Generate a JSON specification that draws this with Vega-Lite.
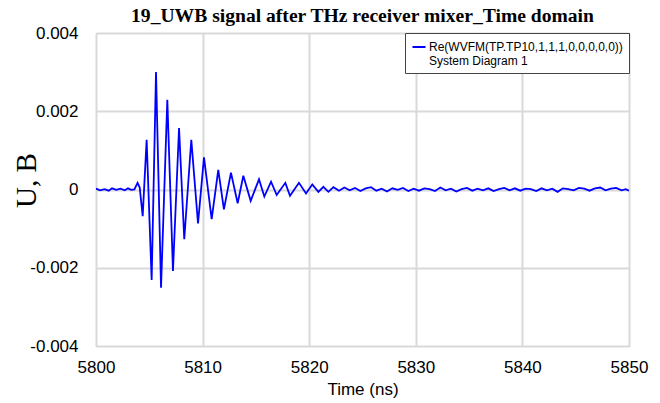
{
  "$schema": "https://vega.github.io/schema/vega-lite/v6.json",
  "width": 533,
  "height": 313,
  "autosize": {"type": "none"},
  "padding": {"left": 96, "top": 33, "right": 31, "bottom": 57},
  "background": "white",
  "title": {"text": "19_UWB signal after THz receiver mixer_Time domain", "font": "Liberation Serif", "fontSize": 19.6, "fontWeight": "bold", "color": "black", "anchor": "middle", "frame": "group", "offset": -3},
  "config": {
    "view": {"stroke": "#7f7f7f", "strokeWidth": 1},
    "axis": {"gridColor": "#d9d9d9", "gridWidth": 2, "domain": false, "ticks": false, "tickSize": 0, "labelFont": "Liberation Sans", "labelFontSize": 17, "labelColor": "black", "titleColor": "black"}
  },
  "data": {"values": [
    {"t": 5800.0, "v": 0.00002}, {"t": 5800.4, "v": -0.00002}, {"t": 5800.8, "v": 0.00001}, {"t": 5801.2, "v": -0.00003},
    {"t": 5801.5, "v": 0.00003}, {"t": 5801.9, "v": -0.00001}, {"t": 5802.3, "v": 0.00002}, {"t": 5802.7, "v": -0.00002},
    {"t": 5803.0, "v": 0.00003}, {"t": 5803.3, "v": -0.00001}, {"t": 5803.6, "v": 0.0}, {"t": 5803.9, "v": 0.00017},
    {"t": 5804.1, "v": 0.00005}, {"t": 5804.38, "v": -0.00068}, {"t": 5804.75, "v": 0.00127}, {"t": 5805.22, "v": -0.00231},
    {"t": 5805.63, "v": 0.0030}, {"t": 5806.1, "v": -0.00251}, {"t": 5806.69, "v": 0.00229}, {"t": 5807.22, "v": -0.00208},
    {"t": 5807.79, "v": 0.00157}, {"t": 5808.28, "v": -0.00127}, {"t": 5808.94, "v": 0.00127}, {"t": 5809.57, "v": -0.00087},
    {"t": 5810.13, "v": 0.00082}, {"t": 5810.85, "v": -0.00076}, {"t": 5811.47, "v": 0.0005}, {"t": 5812.0, "v": -0.00051},
    {"t": 5812.66, "v": 0.00043}, {"t": 5813.29, "v": -0.00035}, {"t": 5813.82, "v": 0.00035}, {"t": 5814.51, "v": -0.00029},
    {"t": 5815.29, "v": 0.00026}, {"t": 5815.79, "v": -0.00018}, {"t": 5816.42, "v": 0.0002}, {"t": 5816.95, "v": -0.00014},
    {"t": 5817.76, "v": 0.00017}, {"t": 5818.2, "v": -0.00016}, {"t": 5819.04, "v": 0.00017}, {"t": 5819.7, "v": -0.0001},
    {"t": 5820.29, "v": 0.00013}, {"t": 5820.86, "v": -0.00006}, {"t": 5821.33, "v": 0.00007}, {"t": 5821.8, "v": -0.00006},
    {"t": 5822.27, "v": 0.00006}, {"t": 5822.8, "v": -0.00003}, {"t": 5823.3, "v": 0.00005}, {"t": 5823.8, "v": -0.00002},
    {"t": 5824.3, "v": 0.00004}, {"t": 5824.8, "v": -0.00004}, {"t": 5825.3, "v": 0.00003}, {"t": 5825.8, "v": 0.00006},
    {"t": 5826.3, "v": -0.00003}, {"t": 5826.8, "v": 0.00002}, {"t": 5827.3, "v": -0.00005}, {"t": 5827.8, "v": 0.00003},
    {"t": 5828.3, "v": -0.00001}, {"t": 5828.8, "v": 0.00004}, {"t": 5829.3, "v": -0.00004}, {"t": 5829.8, "v": 0.00002},
    {"t": 5830.3, "v": -0.00003}, {"t": 5830.8, "v": 0.00003}, {"t": 5831.3, "v": 0.00001}, {"t": 5831.8, "v": -0.00004},
    {"t": 5832.3, "v": 0.00005}, {"t": 5832.8, "v": -0.00002}, {"t": 5833.3, "v": 0.00002}, {"t": 5833.8, "v": -0.00005},
    {"t": 5834.3, "v": 0.00001}, {"t": 5834.8, "v": 0.00004}, {"t": 5835.3, "v": -0.00003}, {"t": 5835.8, "v": 0.00002},
    {"t": 5836.3, "v": -0.00002}, {"t": 5836.8, "v": 0.00003}, {"t": 5837.3, "v": -0.00004}, {"t": 5837.8, "v": 0.00001},
    {"t": 5838.3, "v": 0.00004}, {"t": 5838.8, "v": -0.00002}, {"t": 5839.3, "v": 0.00003}, {"t": 5839.8, "v": -0.00003},
    {"t": 5840.3, "v": 0.00002}, {"t": 5840.8, "v": 0.00001}, {"t": 5841.3, "v": -0.00004}, {"t": 5841.8, "v": 0.00003},
    {"t": 5842.3, "v": -0.00002}, {"t": 5842.8, "v": 0.00002}, {"t": 5843.3, "v": -0.00006}, {"t": 5843.8, "v": 0.00003},
    {"t": 5844.3, "v": 0.00001}, {"t": 5844.8, "v": -0.00002}, {"t": 5845.3, "v": 0.00004}, {"t": 5845.8, "v": 0.00002},
    {"t": 5846.3, "v": -0.00003}, {"t": 5846.8, "v": 0.00003}, {"t": 5847.3, "v": 0.00005}, {"t": 5847.8, "v": -0.00002},
    {"t": 5848.3, "v": 0.00002}, {"t": 5848.8, "v": 0.00004}, {"t": 5849.3, "v": -0.00002}, {"t": 5849.7, "v": 0.00001},
    {"t": 5850.0, "v": -0.00003}
  ]},
  "mark": {"type": "line", "strokeWidth": 1.8, "clip": true},
  "encoding": {
    "x": {"field": "t", "type": "quantitative", "scale": {"domain": [5800, 5850], "nice": false, "zero": false},
      "axis": {"values": [5800, 5810, 5820, 5830, 5840, 5850], "format": "d", "title": "Time (ns)", "titleFont": "Liberation Sans", "titleFontSize": 17, "titleFontWeight": "normal", "labelPadding": 13, "titlePadding": 6, "labelFlush": false}},
    "y": {"field": "v", "type": "quantitative", "scale": {"domain": [-0.004, 0.004], "nice": false},
      "axis": {"values": [-0.004, -0.002, 0, 0.002, 0.004], "title": "U, B", "titleFont": "Liberation Serif", "titleFontSize": 29, "titleFontWeight": "normal", "titleAngle": -90, "titleX": -70, "titleY": 147, "titleAlign": "center", "titleBaseline": "middle", "labelPadding": 18, "labelFlush": false,
        "labelExpr": "datum.value == 0 ? '0' : (datum.value < 0 ? '-' : '') + format(abs(datum.value), '.3f')"}},
    "color": {"datum": "Re(WVFM(TP.TP10,1,1,1,0,0,0,0,0))", "type": "nominal", "scale": {"range": ["#0000ff"]},
      "legend": {"orient": "top-right", "offset": 0, "title": null, "symbolType": "stroke", "symbolStrokeWidth": 2, "symbolSize": 170, "labelFont": "Liberation Sans", "labelFontSize": 12, "labelColor": "black", "labelLimit": 400, "fillColor": "white", "strokeColor": "#444444", "padding": 6, "labelOffset": 2, "labelExpr": "[datum.label, 'System Diagram 1']"}}
  }
}
